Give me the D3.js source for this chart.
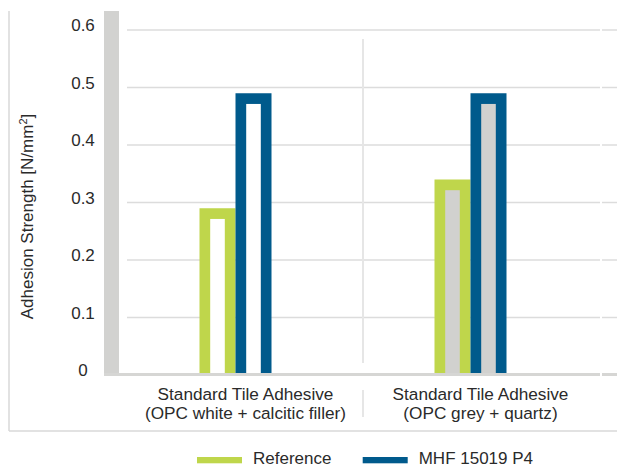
<!DOCTYPE html>
<html>
<head>
<meta charset="utf-8">
<script src="https://cdn.jsdelivr.net/npm/d3@7"></script>
<style>
  html, body { margin: 0; padding: 0; background: #fff; }
  svg { display: block; font-family: "Liberation Sans", Arial, Helvetica, sans-serif; }
  text { fill: #2a2a2a; }
</style>
</head>
<body>
<svg id="chart" width="617" height="466"></svg>
<script>
// chart data
const categories = [
  ["Standard Tile Adhesive", "(OPC white + calcitic filler)"],
  ["Standard Tile Adhesive", "(OPC grey + quartz)"]
];
const seriesNames = ["Reference", "MHF 15019 P4"];
const referenceValues = [0.29, 0.34];
const mhfValues = [0.49, 0.49];
const yTicks = [0, 0.1, 0.2, 0.3, 0.4, 0.5, 0.6];

const colors = { "Reference": "#bfd64b", "MHF 15019 P4": "#005a8c" };
const innerFill = ["#ffffff", "#d1d1cf"];
const wallColor = "#d2d2d0";
const gridColor = "#dcdcdc";
const border = 10.7;

const svg = d3.select("#chart");

const y = d3.scaleLinear().domain([0, 0.6]).range([375, 30]);
const x = d3.scaleBand().domain(d3.range(categories.length)).range([128, 598]);
const xs = d3.scaleBand().domain(seriesNames).range([-36, 36]);
const barShift = -10;

// outer frame
svg.append("line").attr("x1", 9).attr("x2", 9).attr("y1", 11).attr("y2", 431)
  .attr("stroke", "#d9d9d9").attr("stroke-width", 1.5);
svg.append("line").attr("x1", 9).attr("x2", 617).attr("y1", 431).attr("y2", 431)
  .attr("stroke", "#d9d9d9").attr("stroke-width", 1.5);

// gridlines
const grid = svg.append("g");
yTicks.filter(d => d > 0).forEach(d => {
  grid.append("line").attr("x1", 127).attr("x2", 600).attr("y1", y(d)).attr("y2", y(d))
    .attr("stroke", gridColor).attr("stroke-width", 1.5);
  grid.append("line").attr("x1", 602).attr("x2", 617).attr("y1", y(d)).attr("y2", y(d))
    .attr("stroke", gridColor).attr("stroke-width", 1.5);
});

// category divider
const divX = x(1);
svg.append("line").attr("x1", divX).attr("x2", divX).attr("y1", 39).attr("y2", 363)
  .attr("stroke", "#e6e6e6").attr("stroke-width", 2);
svg.append("line").attr("x1", divX).attr("x2", divX).attr("y1", 390).attr("y2", 417)
  .attr("stroke", "#e6e6e6").attr("stroke-width", 2);

// back wall
svg.append("rect").attr("x", 104).attr("y", 11).attr("width", 15).attr("height", y(0) + 1 - 11)
  .attr("fill", wallColor);

// bars: coloured frame with inner fill
const values = { "Reference": referenceValues, "MHF 15019 P4": mhfValues };
const groups = svg.append("g").selectAll("g")
  .data(categories.map((c, i) => i))
  .join("g")
  .attr("transform", i => `translate(${x(i) + x.bandwidth() / 2 + barShift},0)`);

groups.each(function (i) {
  const g = d3.select(this);
  seriesNames.forEach(s => {
    const v = values[s][i];
    g.append("rect")
      .attr("x", xs(s)).attr("width", xs.bandwidth())
      .attr("y", y(v)).attr("height", y(0) - y(v))
      .attr("fill", colors[s]);
    g.append("rect")
      .attr("x", xs(s) + border).attr("width", xs.bandwidth() - 2 * border)
      .attr("y", y(v) + border).attr("height", y(0) - y(v) - border)
      .attr("fill", innerFill[i]);
  });
});

// floor
svg.append("rect").attr("x", 104).attr("y", 373).attr("width", 496).attr("height", 3)
  .attr("fill", "#d6d6d4");
svg.append("rect").attr("x", 602).attr("y", 373).attr("width", 15).attr("height", 3)
  .attr("fill", "#d6d6d4");

// y tick labels
svg.append("g").selectAll("text")
  .data(yTicks)
  .join("text")
  .attr("x", 83)
  .attr("y", d => y(d) + 1)
  .attr("text-anchor", "middle")
  .attr("font-size", 17)
  .text(d => d === 0 ? "0" : d3.format(".1f")(d));

// y title
svg.append("text")
  .attr("transform", "translate(32.5,216.5) rotate(-90)")
  .attr("text-anchor", "middle")
  .attr("font-size", 17)
  .html("Adhesion Strength [N/mm<tspan font-size='11' dy='-6'>2</tspan><tspan dy='6'>]</tspan>");

// category labels
categories.forEach((lines, i) => {
  const t = svg.append("text")
    .attr("text-anchor", "middle")
    .attr("font-size", 17.2);
  lines.forEach((line, j) => {
    t.append("tspan")
      .attr("x", x(i) + x.bandwidth() / 2)
      .attr("y", 400 + j * 18.5)
      .text(line);
  });
});

// legend
const legendX = d3.scaleOrdinal().domain(seriesNames).range([197, 362.7]);
const legend = svg.append("g").selectAll("g")
  .data(seriesNames)
  .join("g")
  .attr("transform", s => `translate(${legendX(s)},0)`);
legend.append("rect")
  .attr("x", 0).attr("y", 457).attr("width", 45).attr("height", 6.3)
  .attr("fill", s => colors[s]);
legend.append("text")
  .attr("x", 56).attr("y", 463.5)
  .attr("font-size", 17)
  .text(s => s);
</script>
</body>
</html>
